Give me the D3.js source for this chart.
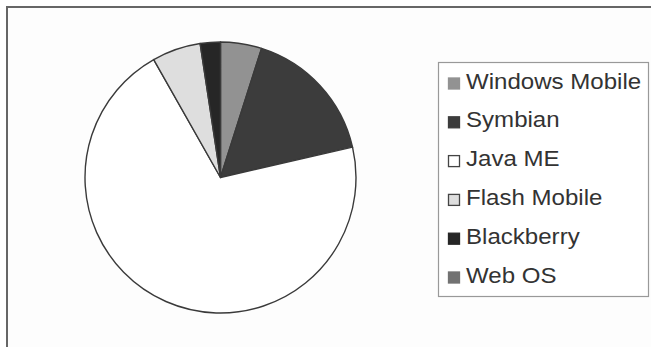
<!DOCTYPE html>
<html><head><meta charset="utf-8">
<script src="https://cdn.jsdelivr.net/npm/d3@7"></script>
<style>body{margin:0;background:#fff}svg{display:block}</style>
</head><body>
<svg id="c" width="651" height="347"></svg>
<script>
const categories = ["Windows Mobile","Symbian","Java ME","Flash Mobile","Blackberry","Web OS"];
const values = [4.9, 16.5, 70.4, 5.8, 2.4, 0];
const colors = ["#929292","#3c3c3c","#ffffff","#dedede","#262626","#727272"];

const svg = d3.select("#c");
svg.append("rect").attr("x",7).attr("y",7).attr("width",644).attr("height",340).attr("fill","#fdfdfd");
svg.append("path").attr("d","M7,347 L7,7 L651,7").attr("fill","none").attr("stroke","#666").attr("stroke-width",2);

const cx = 220.5, cy = 177.5, r = 135.5;
const pie = d3.pie().sort(null).value(d => d.v);
const arc = d3.arc().innerRadius(0).outerRadius(r);
const data = categories.map((c,i)=>({c, v: values[i], col: colors[i]}));
const g = svg.append("g").attr("transform",`translate(${cx},${cy})`);
g.selectAll("path").data(pie(data).filter(d=>d.data.v>0)).join("path")
  .attr("d",arc).attr("fill",d=>d.data.col)
  .attr("stroke","#3a3a3a").attr("stroke-width",1.4).attr("stroke-linejoin","round");

// legend
svg.append("rect").attr("x",438.5).attr("y",62.5).attr("width",210).attr("height",234)
  .attr("fill","#fff").attr("stroke","#999").attr("stroke-width",1.2);
const y = d3.scalePoint().domain(categories).range([88.5, 282.5]);
const lg = svg.append("g");
categories.forEach((c,i)=>{
  const by = y(c);
  lg.append("rect").attr("x",448.5).attr("y",by-10.5).attr("width",11).attr("height",11)
    .attr("fill",colors[i]).attr("stroke", i===2||i===3 ? "#444" : colors[i]).attr("stroke-width", 1.3);
  lg.append("text").attr("transform",`translate(466,${by}) scale(1.12,1)`)
    .attr("font-family","Liberation Sans, Arial, sans-serif").attr("font-size",21.5)
    .attr("fill","#333").text(c);
});
</script>
</body></html>
